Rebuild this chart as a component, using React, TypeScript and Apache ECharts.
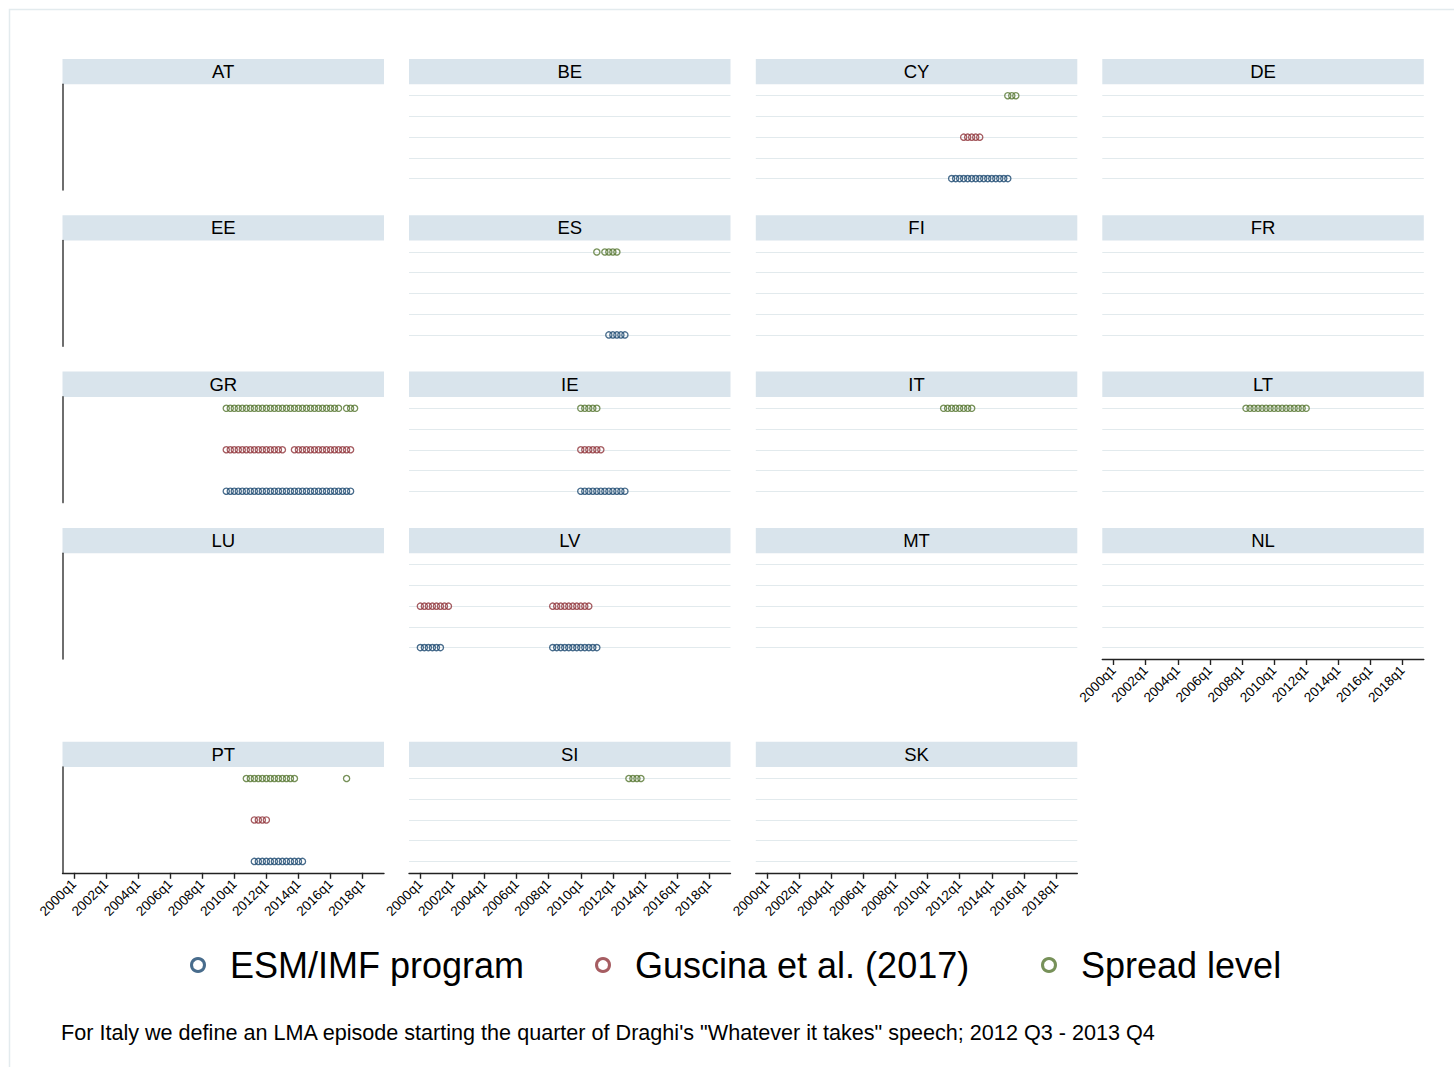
import React, { useEffect, useRef } from "react";
import * as echarts from "echarts";

const PANELS = ["AT", "BE", "CY", "DE", "EE", "ES", "FI", "FR", "GR", "IE", "IT", "LT", "LU", "LV", "MT", "NL", "PT", "SI", "SK"];
const SERIES_NAMES = ["ESM/IMF program", "Guscina et al. (2017)", "Spread level"];
const SERIES_COLORS = ["#1a476f", "#90353b", "#55752f"];
const SERIES_LEVEL = [1, 2, 3];
const X_TICK_LABELS = ["2000q1", "2002q1", "2004q1", "2006q1", "2008q1", "2010q1", "2012q1", "2014q1", "2016q1", "2018q1"];
const NOTE = "For Italy we define an LMA episode starting the quarter of Draghi's \"Whatever it takes\" speech; 2012 Q3 - 2013 Q4";

// ESM/IMF program quarters
const ESM_CY = ["2011q3", "2011q4", "2012q1", "2012q2", "2012q3", "2012q4", "2013q1", "2013q2", "2013q3", "2013q4", "2014q1", "2014q2", "2014q3", "2014q4", "2015q1"];
const ESM_ES = ["2011q4", "2012q1", "2012q2", "2012q3", "2012q4"];
const ESM_GR = ["2009q3", "2009q4", "2010q1", "2010q2", "2010q3", "2010q4", "2011q1", "2011q2", "2011q3", "2011q4", "2012q1", "2012q2", "2012q3", "2012q4", "2013q1", "2013q2", "2013q3", "2013q4", "2014q1", "2014q2", "2014q3", "2014q4", "2015q1", "2015q2", "2015q3", "2015q4", "2016q1", "2016q2", "2016q3", "2016q4", "2017q1", "2017q2"];
const ESM_IE = ["2010q1", "2010q2", "2010q3", "2010q4", "2011q1", "2011q2", "2011q3", "2011q4", "2012q1", "2012q2", "2012q3", "2012q4"];
const ESM_LV = ["2000q1", "2000q2", "2000q3", "2000q4", "2001q1", "2001q2", "2008q2", "2008q3", "2008q4", "2009q1", "2009q2", "2009q3", "2009q4", "2010q1", "2010q2", "2010q3", "2010q4", "2011q1"];
const ESM_PT = ["2011q2", "2011q3", "2011q4", "2012q1", "2012q2", "2012q3", "2012q4", "2013q1", "2013q2", "2013q3", "2013q4", "2014q1", "2014q2"];

// Guscina et al. (2017) quarters
const GUS_CY = ["2012q2", "2012q3", "2012q4", "2013q1", "2013q2"];
const GUS_GR = ["2009q3", "2009q4", "2010q1", "2010q2", "2010q3", "2010q4", "2011q1", "2011q2", "2011q3", "2011q4", "2012q1", "2012q2", "2012q3", "2012q4", "2013q1", "2013q4", "2014q1", "2014q2", "2014q3", "2014q4", "2015q1", "2015q2", "2015q3", "2015q4", "2016q1", "2016q2", "2016q3", "2016q4", "2017q1", "2017q2"];
const GUS_IE = ["2010q1", "2010q2", "2010q3", "2010q4", "2011q1", "2011q2"];
const GUS_LV = ["2000q1", "2000q2", "2000q3", "2000q4", "2001q1", "2001q2", "2001q3", "2001q4", "2008q2", "2008q3", "2008q4", "2009q1", "2009q2", "2009q3", "2009q4", "2010q1", "2010q2", "2010q3"];
const GUS_PT = ["2011q2", "2011q3", "2011q4", "2012q1"];

// Spread level quarters
const SPR_CY = ["2015q1", "2015q2", "2015q3"];
const SPR_ES = ["2011q1", "2011q3", "2011q4", "2012q1", "2012q2"];
const SPR_GR = ["2009q3", "2009q4", "2010q1", "2010q2", "2010q3", "2010q4", "2011q1", "2011q2", "2011q3", "2011q4", "2012q1", "2012q2", "2012q3", "2012q4", "2013q1", "2013q2", "2013q3", "2013q4", "2014q1", "2014q2", "2014q3", "2014q4", "2015q1", "2015q2", "2015q3", "2015q4", "2016q1", "2016q2", "2016q3", "2017q1", "2017q2", "2017q3"];
const SPR_IE = ["2010q1", "2010q2", "2010q3", "2010q4", "2011q1"];
const SPR_IT = ["2011q1", "2011q2", "2011q3", "2011q4", "2012q1", "2012q2", "2012q3", "2012q4"];
const SPR_LT = ["2008q2", "2008q3", "2008q4", "2009q1", "2009q2", "2009q3", "2009q4", "2010q1", "2010q2", "2010q3", "2010q4", "2011q1", "2011q2", "2011q3", "2011q4", "2012q1"];
const SPR_PT = ["2010q4", "2011q1", "2011q2", "2011q3", "2011q4", "2012q1", "2012q2", "2012q3", "2012q4", "2013q1", "2013q2", "2013q3", "2013q4", "2017q1"];
const SPR_SI = ["2013q1", "2013q2", "2013q3", "2013q4"];

const EPISODES: Record<string, string[][]> = {
  CY: [ESM_CY, GUS_CY, SPR_CY],
  ES: [ESM_ES, [], SPR_ES],
  GR: [ESM_GR, GUS_GR, SPR_GR],
  IE: [ESM_IE, GUS_IE, SPR_IE],
  IT: [[], [], SPR_IT],
  LT: [[], [], SPR_LT],
  LV: [ESM_LV, GUS_LV, []],
  PT: [ESM_PT, GUS_PT, SPR_PT],
  SI: [[], [], SPR_SI],
};
const X_AXIS_PANELS = ["NL", "PT", "SI", "SK"];

const FONT = "'Liberation Sans', Arial, Helvetica, sans-serif";
const COL_LEFT = [62.5, 409, 755.8, 1102.3];
const PANEL_W = 321.5;
const STRIP_TOP = [59, 215.3, 371.6, 528, 741.8];
const STRIP_H = 25.3;
const PLOT_H = 105.7;

const parseQ = (q: string) => (Number(q.slice(0, 4)) - 2000) * 4 + Number(q.slice(5)) - 1;

export default function App() {
  const ref = useRef<HTMLDivElement>(null);
  useEffect(() => {
    if (!ref.current) return;
    const chart = echarts.init(ref.current, null, { renderer: "svg" });
    const xTickVals = X_TICK_LABELS.map(parseQ);
    const grids: any[] = [];
    const xAxes: any[] = [];
    const yAxes: any[] = [];
    const series: any[] = [];
    const graphics: any[] = [
      { type: "rect", shape: { x: 9.5, y: 9.5, width: 1500, height: 1100 }, style: { fill: "none", stroke: "#e3ebee", lineWidth: 1.5 }, silent: true },
    ];
    PANELS.forEach((p, i) => {
      const r = Math.floor(i / 4);
      const c = i % 4;
      const left = COL_LEFT[c];
      const top = STRIP_TOP[r] + STRIP_H;
      const hasX = X_AXIS_PANELS.includes(p);
      grids.push({ left, top, width: PANEL_W, height: PLOT_H, outerBoundsMode: "none", containLabel: false });
      xAxes.push({
        type: "value",
        gridIndex: i,
        min: -2.83,
        max: 77.33,
        axisLine: { show: hasX, onZero: false, lineStyle: { color: "#222", width: 1.4 } },
        axisTick: { show: hasX, customValues: xTickVals, length: 6, lineStyle: { color: "#222", width: 1.4 } },
        axisLabel: {
          show: hasX,
          customValues: xTickVals,
          rotate: 45,
          margin: 9,
          fontSize: 13.5,
          color: "#000",
          fontFamily: FONT,
          formatter: (v: number) => X_TICK_LABELS[xTickVals.indexOf(Math.round(v))] || "",
        },
        splitLine: { show: false },
      });
      yAxes.push({
        type: "value",
        gridIndex: i,
        min: 0.725,
        max: 3.275,
        axisLine: { show: c === 0, onZero: false, lineStyle: { color: "#4a4a4a", width: 1.6 } },
        axisTick: { show: false, customValues: [1, 1.5, 2, 2.5, 3] },
        axisLabel: { show: false },
        splitLine: { show: c !== 0, lineStyle: { color: "#e2eaed", width: 1 } },
      });
      graphics.push({ type: "rect", shape: { x: left, y: STRIP_TOP[r], width: PANEL_W, height: STRIP_H }, style: { fill: "#d9e4ec" }, silent: true });
      graphics.push({
        type: "text",
        x: left + PANEL_W / 2,
        y: STRIP_TOP[r] + STRIP_H / 2,
        style: { text: p, align: "center", verticalAlign: "middle", fontSize: 18.5, fill: "#000", fontFamily: FONT },
        silent: true,
      });
      const eps = EPISODES[p];
      if (eps) {
        eps.forEach((qs, k) => {
          if (!qs.length) return;
          series.push({
            type: "scatter",
            name: SERIES_NAMES[k],
            xAxisIndex: i,
            yAxisIndex: i,
            symbol: "circle",
            symbolSize: 6.2,
            itemStyle: { color: "rgba(0,0,0,0)", borderColor: SERIES_COLORS[k], borderWidth: 1.3 },
            data: qs.map((q) => [parseQ(q), SERIES_LEVEL[k]]),
          });
        });
      }
    });
    graphics.push({ type: "text", x: 61, y: 1032, style: { text: NOTE, align: "left", verticalAlign: "middle", fontSize: 21.6, fill: "#000", fontFamily: FONT }, silent: true });
    const LEGEND_X = [190, 595, 1041];
    const legends = SERIES_NAMES.map((name, k) => ({
      data: [{ name, icon: "circle", itemStyle: { color: "rgba(0,0,0,0)", borderColor: SERIES_COLORS[k], borderWidth: 3 } }],
      left: LEGEND_X[k],
      top: 947,
      padding: 0,
      itemWidth: 54,
      itemHeight: 13,
      selectedMode: false,
      textStyle: { fontSize: 36, color: "#000", fontFamily: FONT },
    }));
    chart.setOption({
      animation: false,
      backgroundColor: "#fff",
      grid: grids,
      xAxis: xAxes,
      yAxis: yAxes,
      series,
      legend: legends,
      graphic: graphics,
    });
    return () => chart.dispose();
  }, []);
  return <div ref={ref} style={{ position: "fixed", left: 0, top: 0, width: 1454, height: 1067 }} />;
}
